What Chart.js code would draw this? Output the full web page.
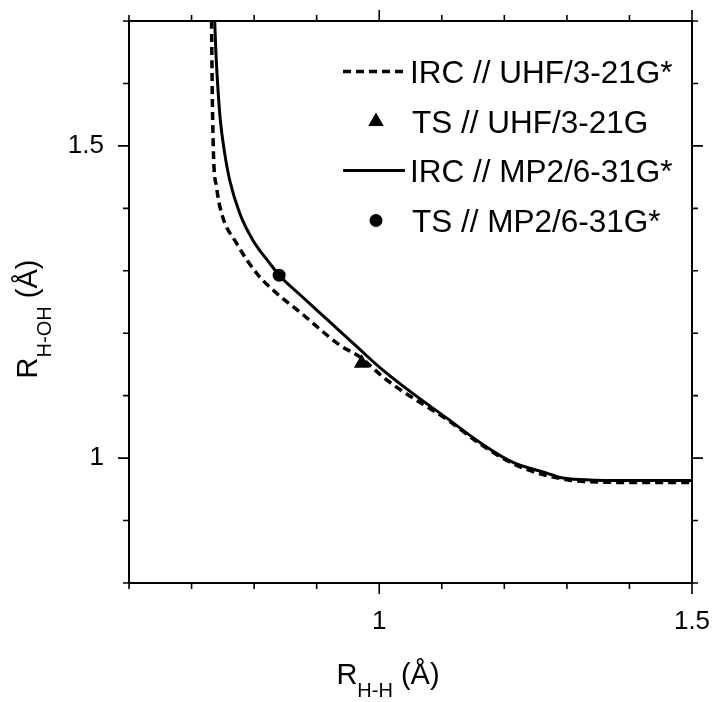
<!DOCTYPE html>
<html>
<head>
<meta charset="utf-8">
<script src="https://cdn.jsdelivr.net/npm/chart.js@4.4.1/dist/chart.umd.min.js"></script>
<style>
  html, body { margin: 0; padding: 0; background: #fff; }
  canvas { display: block; }
</style>
</head>
<body>
<canvas id="chart" width="713" height="702"></canvas>
<script>
// IRC path, UHF/3-21G* (dashed)
var uhfIrcX = [0.732, 0.733, 0.735, 0.740, 0.748, 0.772, 0.804, 0.836, 0.873, 0.937, 0.969, 1.006, 1.030, 1.108, 1.161, 1.214, 1.268, 1.336, 1.420, 1.500];
var uhfIrcY = [1.700, 1.594, 1.488, 1.434, 1.392, 1.344, 1.296, 1.264, 1.234, 1.181, 1.162, 1.130, 1.112, 1.062, 1.023, 0.991, 0.972, 0.962, 0.961, 0.961];

// IRC path, MP2/6-31G* (solid)
var mp2IrcX = [0.737, 0.739, 0.742, 0.746, 0.753, 0.761, 0.777, 0.798, 0.825, 0.840, 0.873, 0.921, 0.969, 1.001, 1.053, 1.108, 1.161, 1.214, 1.268, 1.289, 1.336, 1.420, 1.500];
var mp2IrcY = [1.700, 1.648, 1.594, 1.541, 1.488, 1.445, 1.392, 1.349, 1.312, 1.293, 1.262, 1.218, 1.174, 1.145, 1.104, 1.064, 1.025, 0.993, 0.976, 0.969, 0.965, 0.964, 0.964];

// transition states
var uhfTsX = [0.972];
var uhfTsY = [1.152];
var mp2TsX = [0.840];
var mp2TsY = [1.293];

var legendLabels = ['IRC // UHF/3-21G*', 'TS // UHF/3-21G', 'IRC // MP2/6-31G*', 'TS // MP2/6-31G*'];

var xLabelValues = [1, 1.5];
var xLabelText = ['1', '1.5'];
var yLabelValues = [1, 1.5];
var yLabelText = ['1', '1.5'];

var FONT = "'Liberation Sans', Arial, Helvetica, sans-serif";

function pts(xs, ys) {
    return xs.map(function (x, i) { return { x: x, y: ys[i] }; });
}

function labelFor(values, texts) {
    return function (v) {
        for (var i = 0; i < values.length; i++) {
            if (Math.abs(values[i] - v) < 1e-6) return texts[i];
        }
        return '';
    };
}

function isMajor(v) {
    return Math.abs(v * 2 - Math.round(v * 2)) < 1e-6;
}

// draws text made of pieces (for subscripts), centred on cx
function drawRich(ctx, parts, cx, baseY) {
    var total = 0;
    parts.forEach(function (p) {
        ctx.font = p.size + 'px ' + FONT;
        p.w = ctx.measureText(p.t).width;
        total += p.w;
    });
    var x = cx - total / 2;
    ctx.textAlign = 'left';
    ctx.textBaseline = 'alphabetic';
    parts.forEach(function (p) {
        ctx.font = p.size + 'px ' + FONT;
        ctx.fillText(p.t, x, baseY + p.dy);
        x += p.w;
    });
}

var framePlugin = {
    id: 'frame',
    afterDraw: function (chart) {
        var ctx = chart.ctx;
        var a = chart.chartArea;
        var xs = chart.scales.x, ys = chart.scales.y;
        ctx.save();
        ctx.strokeStyle = '#000';
        ctx.lineWidth = 2;
        ctx.strokeRect(a.left, a.top, a.right - a.left, a.bottom - a.top);

        ctx.lineWidth = 1.6;
        ctx.beginPath();
        xs.ticks.forEach(function (t) {
            var px = xs.getPixelForValue(t.value);
            var len = isMajor(t.value) ? 11 : 6;
            ctx.moveTo(px, a.bottom); ctx.lineTo(px, a.bottom + len);
            ctx.moveTo(px, a.top); ctx.lineTo(px, a.top - len);
        });
        ys.ticks.forEach(function (t) {
            var py = ys.getPixelForValue(t.value);
            var len = isMajor(t.value) ? 11 : 6;
            ctx.moveTo(a.left, py); ctx.lineTo(a.left - len, py);
            ctx.moveTo(a.right, py); ctx.lineTo(a.right + len, py);
        });
        ctx.stroke();

        // axis titles
        ctx.fillStyle = '#000';
        drawRich(ctx, [
            { t: 'R', size: 29, dy: 0 },
            { t: 'H-H', size: 20, dy: 13 },
            { t: ' (Å)', size: 29, dy: 0 }
        ], 388, 684);

        ctx.save();
        ctx.translate(37, 319);
        ctx.rotate(-Math.PI / 2);
        drawRich(ctx, [
            { t: 'R', size: 29, dy: 0 },
            { t: 'H-OH', size: 20, dy: 14 },
            { t: ' (Å)', size: 29, dy: 0 }
        ], 0, 0);
        ctx.restore();

        // legend
        var rows = [83, 133, 182, 232];
        ctx.textAlign = 'left';
        ctx.textBaseline = 'alphabetic';
        chart.data.datasets.forEach(function (ds, i) {
            var cy = rows[i] - 11.5;
            ctx.strokeStyle = '#000';
            ctx.fillStyle = '#000';
            if (ds.showLine) {
                ctx.lineWidth = ds.borderWidth;
                ctx.setLineDash(ds.borderDash || []);
                ctx.beginPath();
                ctx.moveTo(343, cy);
                ctx.lineTo(405, cy);
                ctx.stroke();
                ctx.setLineDash([]);
            } else if (ds.pointStyle === 'triangle') {
                var r = ds.pointRadius;
                ctx.beginPath();
                ctx.moveTo(376, cy - r);
                ctx.lineTo(376 + r * Math.sin(Math.PI / 3), cy + r / 2);
                ctx.lineTo(376 - r * Math.sin(Math.PI / 3), cy + r / 2);
                ctx.closePath();
                ctx.fill();
            } else {
                ctx.beginPath();
                ctx.arc(376, cy, ds.pointRadius, 0, Math.PI * 2);
                ctx.fill();
            }
            ctx.font = '31.5px ' + FONT;
            ctx.fillText(ds.label, ds.showLine ? 410 : 412, rows[i]);
        });
        ctx.restore();
    }
};

new Chart(document.getElementById('chart'), {
    type: 'scatter',
    data: {
        datasets: [{
            label: legendLabels[0],
            data: pts(uhfIrcX, uhfIrcY),
            showLine: true,
            borderColor: '#000',
            borderWidth: 3.5,
            borderDash: [8, 5],
            pointRadius: 0,
            cubicInterpolationMode: 'monotone',
        }, {
            label: legendLabels[1],
            data: pts(uhfTsX, uhfTsY),
            showLine: false,
            pointStyle: 'triangle',
            pointRadius: 9,
            backgroundColor: '#000',
            borderColor: '#000',
            borderWidth: 0,
        }, {
            label: legendLabels[2],
            data: pts(mp2IrcX, mp2IrcY),
            showLine: true,
            borderColor: '#000',
            borderWidth: 3,
            pointRadius: 0,
            cubicInterpolationMode: 'monotone',
        }, {
            label: legendLabels[3],
            data: pts(mp2TsX, mp2TsY),
            showLine: false,
            pointStyle: 'circle',
            pointRadius: 6.5,
            backgroundColor: '#000',
            borderColor: '#000',
            borderWidth: 0,
        }],
    },
    options: {
        responsive: false,
        animation: false,
        devicePixelRatio: 1,
        layout: { padding: { top: 21, right: 21, left: 0, bottom: 0 } },
        plugins: {
            legend: { display: false },
            tooltip: { enabled: false },
        },
        scales: {
            x: {
                type: 'linear',
                min: 0.6,
                max: 1.5,
                afterFit: function (s) { s.height = 119; s.paddingLeft = 0; s.paddingRight = 0; },
                border: { display: false },
                grid: { display: true, drawOnChartArea: false, drawTicks: true, tickLength: 11, color: 'rgba(0,0,0,0)' },
                ticks: {
                    stepSize: 0.1,
                    autoSkip: false,
                    maxRotation: 0,
                    padding: 12,
                    color: '#000',
                    font: { family: FONT, size: 26 },
                    callback: labelFor(xLabelValues, xLabelText),
                },
            },
            y: {
                type: 'linear',
                min: 0.8,
                max: 1.7,
                afterFit: function (s) { s.width = 129; s.paddingTop = 0; s.paddingBottom = 0; },
                border: { display: false },
                grid: { display: true, drawOnChartArea: false, drawTicks: true, tickLength: 11, color: 'rgba(0,0,0,0)' },
                ticks: {
                    stepSize: 0.1,
                    autoSkip: false,
                    padding: 14,
                    color: '#000',
                    font: { family: FONT, size: 26 },
                    callback: labelFor(yLabelValues, yLabelText),
                },
            },
        },
    },
    plugins: [framePlugin],
});
</script>
</body>
</html>
